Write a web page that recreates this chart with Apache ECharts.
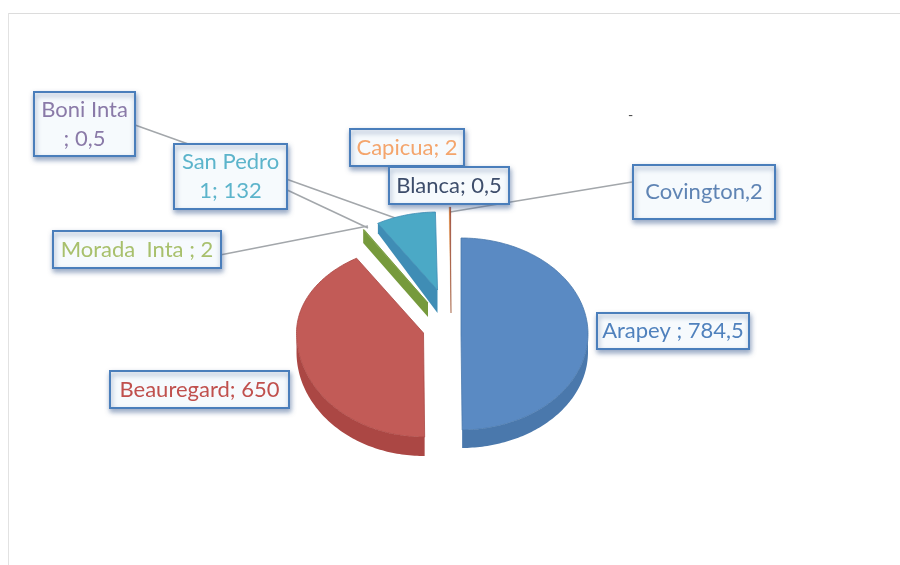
<!DOCTYPE html>
<html>
<head>
<meta charset="utf-8">
<title>Pie</title>
<script src="https://cdn.jsdelivr.net/npm/echarts@6/dist/echarts.min.js"></script>
<style>
  html, body { margin: 0; padding: 0; background: #fff; }
  #chart { width: 900px; height: 565px; filter: blur(0.5px); }
</style>
</head>
<body>
<div id="chart"></div>
<script>
// data, clockwise from 12 o'clock
let categories = ['Arapey', 'Beauregard', 'Morada Inta', 'Boni Inta', 'San Pedro 1', 'Capicua', 'Blanca', 'Covington'];
let values = [784.5, 650, 2, 0.5, 132, 2, 0.5, 2];
let labelTexts = ['Arapey ; 784,5', 'Beauregard; 650', 'Morada  Inta ; 2', 'Boni Inta\n; 0,5', 'San Pedro\n1; 132', 'Capicua; 2', 'Blanca; 0,5', 'Covington,2'];

// colours per slice: face, wall, label
let faceColors = ['#5a8ac3', '#c25b57', '#86a74a', '#4ba9c6', '#4ba9c6', '#f79646', '#a5503c', '#a5503c'];
let wallColors = ['#4a78ac', '#ab4744', '#769a3c', '#3f8db5', '#3f8db5', '#c97a38', '#8f4a38', '#8f4a38'];
let textColors = ['#4f81bd', '#c0504d', '#a8c06c', '#8a7aa8', '#5cb4cb', '#f4a56c', '#3d4d6b', '#5f84b4'];

// exploded position of each slice: apex, radii, rear/front squash, wall height at rim/apex
let sliceLayout = [
    {cx: 461, cy: 334, rx: 127, back: 96, front: 96, rim: 18, apex: 18},
    {cx: 423.5, cy: 333, rx: 127, back: 88, front: 104, rim: 19, apex: 19},
    {cx: 428, cy: 303, rx: 123, back: 86, front: 86, rim: 13, apex: 14, cut: true},
    {cx: 437.5, cy: 290, rx: 115, back: 78, front: 78, rim: 0, apex: 0},
    {cx: 437.5, cy: 290, rx: 115, back: 78, front: 78, rim: 10, apex: 23, cut: true},
    {cx: 451, cy: 313, rx: 115, back: 106, front: 106, rim: 0, apex: 0},
    {cx: 451, cy: 313, rx: 115, back: 106, front: 106, rim: 0, apex: 0},
    {cx: 451, cy: 313, rx: 115, back: 106, front: 106, rim: 0, apex: 0}
];

// callout boxes [x, y, w, h]
let boxLayout = [
    [597, 313, 152, 36],
    [110, 371, 179, 37],
    [53, 231, 168, 37],
    [34, 92, 101, 64],
    [174, 144, 113, 65],
    [350, 129, 114, 37],
    [389, 167, 120, 37],
    [633, 165, 142, 54]
];

// leader lines
let leaders = [
    [[135, 125], [398, 219]],
    [[285, 189], [368, 228]],
    [[220, 255], [368, 226]],
    [[632, 182], [450, 212]]
];

let total = values.reduce((a, b) => a + b, 0);
let starts = [];
values.reduce((sum, v, i) => { starts[i] = sum; return sum + v; }, 0);

function rimPoint(l, angle, drop) {
    let c = Math.cos(angle);
    return [l.cx + l.rx * Math.sin(angle), l.cy - (c > 0 ? l.back : l.front) * c + (drop || 0)];
}

function renderSlice(params, api) {
    let i = api.value(0);
    let l = sliceLayout[i];
    let a0 = starts[i] / total * Math.PI * 2;
    let a1 = (starts[i] + api.value(1)) / total * Math.PI * 2;
    let steps = Math.max(2, Math.ceil((a1 - a0) / 0.02));
    let face = [[l.cx, l.cy]];
    let wallTop = [];
    let wallBottom = [];
    for (let s = 0; s <= steps; s++) {
        let a = a0 + (a1 - a0) * s / steps;
        face.push(rimPoint(l, a));
        if (Math.cos(a) < 0.02 && l.rim) {
            wallTop.push(rimPoint(l, a));
            wallBottom.unshift(rimPoint(l, a, l.rim));
        }
    }
    let children = [];
    if (wallTop.length > 1) {
        children.push({type: 'polygon', shape: {points: wallTop.concat(wallBottom)}, style: {fill: wallColors[i]}});
    }
    if (l.cut) {
        let p = rimPoint(l, a0);
        children.push({
            type: 'polygon',
            shape: {points: [p, [l.cx, l.cy], [l.cx, l.cy + l.apex], [p[0], p[1] + l.rim]]},
            style: {fill: wallColors[i]}
        });
    }
    children.push({
        type: 'polygon',
        shape: {points: face},
        style: {fill: faceColors[i], stroke: wallColors[i], lineWidth: l.rim ? 0.8 : 0.2}
    });
    return {type: 'group', children: children};
}

function renderLeader(params, api) {
    let pts = leaders[api.value(0)];
    return {type: 'polyline', shape: {points: pts}, style: {fill: 'none', stroke: '#a3a7ab', lineWidth: 1.5}};
}

function renderBox(params, api) {
    let i = api.value(0);
    let b = boxLayout[i];
    return {
        type: 'group',
        children: [
            {
                type: 'rect',
                shape: {x: b[0], y: b[1], width: b[2], height: b[3]},
                style: {
                    fill: '#f6fafd', stroke: '#4a7ebb', lineWidth: 2,
                    shadowBlur: 5, shadowOffsetX: 1, shadowOffsetY: 3, shadowColor: 'rgba(70,100,150,0.55)'
                }
            },
            {
                type: 'text',
                style: {
                    x: b[0] + b[2] / 2, y: b[1] + b[3] / 2,
                    text: labelTexts[i], align: 'center', verticalAlign: 'middle',
                    font: '22px Lato', lineHeight: 29, fill: textColors[i]
                }
            }
        ]
    };
}

let chart = echarts.init(document.getElementById('chart'), null, {renderer: 'canvas'});
chart.setOption({
    animation: false,
    backgroundColor: '#fff',
    graphic: [
        {type: 'line', shape: {x1: 8, y1: 13.5, x2: 900, y2: 13.5}, style: {stroke: '#dcdcdc', lineWidth: 1}},
        {type: 'line', shape: {x1: 8.5, y1: 13, x2: 8.5, y2: 565}, style: {stroke: '#e2e2e2', lineWidth: 1}},
        {type: 'text', style: {x: 628, y: 108, text: '-', font: '14px Lato', fill: '#444'}}
    ],
    series: [
        {
            type: 'custom', coordinateSystem: 'none', silent: true, z: 1,
            renderItem: renderLeader,
            data: leaders.map((_, i) => [i])
        },
        {
            type: 'custom', coordinateSystem: 'none', silent: true, z: 2,
            renderItem: renderSlice,
            data: values.map((v, i) => ({name: categories[i], value: [i, v]}))
        },
        {
            type: 'custom', coordinateSystem: 'none', silent: true, z: 3,
            renderItem: renderBox,
            data: values.map((v, i) => ({name: categories[i], value: [i, v]}))
        }
    ]
});
window.addEventListener('resize', () => chart.resize());
</script>
</body>
</html>
